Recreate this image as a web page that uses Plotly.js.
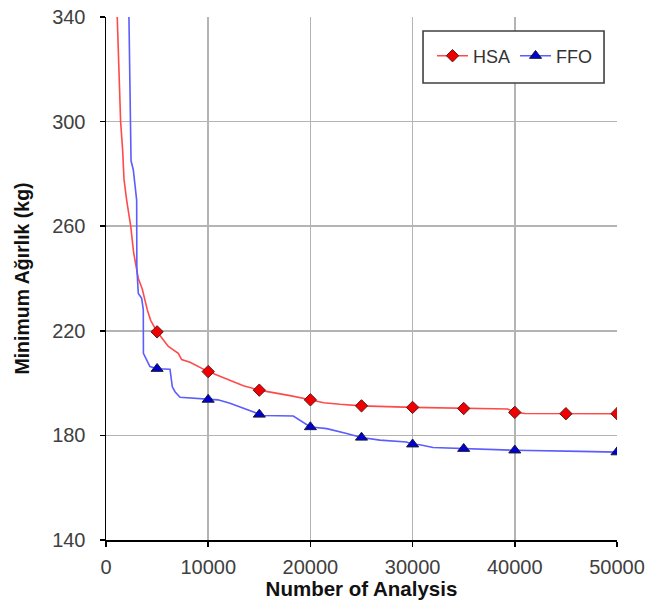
<!DOCTYPE html>
<html>
<head>
<meta charset="utf-8">
<script src="https://cdn.plot.ly/plotly-3.0.1.min.js"></script>
<style>html,body{margin:0;padding:0;background:#fff;}#chart{width:646px;height:610px;}</style>
</head>
<body>
<div id="chart"></div>
<script>
// HSA curve
var hsaX = [1000, 1100, 1300, 1430, 1630, 1760, 2020, 2420, 2700, 3000, 3160, 3550, 4040, 4370, 5000, 6100, 7070, 7400, 8220, 10000, 11800, 12130, 13440, 15000, 17000, 18000, 20000, 21300, 22900, 25000, 30000, 35000, 39300, 39800, 40000, 41000, 45000, 50000];
var hsaY = [352, 340, 318, 300, 289, 278, 270, 260, 250, 244, 240, 236, 228, 224, 219.6, 214, 211.4, 209, 208, 204.4, 201.6, 201, 199, 197.3, 196, 195.2, 193.6, 192.5, 191.9, 191.3, 190.7, 190.3, 190.1, 189.2, 188.8, 188.4, 188.3, 188.3];
// FFO curve
var ffoX = [2200, 2250, 2350, 2410, 2450, 2670, 2770, 2935, 3000, 3020, 3160, 3490, 3650, 3660, 3910, 4300, 5000, 6260, 6490, 6750, 7240, 10000, 10950, 12130, 13110, 15000, 15390, 18330, 19960, 20000, 20300, 21600, 23550, 25000, 26800, 29400, 30000, 30700, 32000, 35000, 40000, 46400, 50000];
var ffoY = [352, 340, 300, 289, 285, 281.6, 278, 273.8, 270, 244, 234.3, 232.4, 228, 211.4, 209.5, 206.3, 205.5, 205.3, 198.6, 196.7, 194.6, 193.7, 193.6, 192.3, 190.8, 188, 187.6, 187.4, 183.5, 183.2, 183.1, 182.6, 180.7, 179.2, 178.2, 177.5, 176.6, 176.4, 175.4, 174.9, 174.3, 173.9, 173.6];
// marker positions
var hsaMarkX = [5000, 10000, 15000, 20000, 25000, 30000, 35000, 40000, 45000, 50000];
var ffoMarkX = [5000, 10000, 15000, 20000, 25000, 30000, 35000, 40000, 50000];
var seriesNames = ['HSA', 'FFO'];
var xTicks = [0, 10000, 20000, 30000, 40000, 50000];
var yTicks = [140, 180, 220, 260, 300, 340];

function idx(xs, marks) { return marks.map(function (m) { return xs.indexOf(m); }); }

var font = 'Liberation Sans, Arial, sans-serif';
var traces = [
  {
    x: hsaX, y: hsaY, name: seriesNames[0], mode: 'lines+markers', type: 'scatter',
    line: {color: '#ff4a4a', width: 1.6},
    marker: {symbol: 'diamond', size: 9.5, color: '#f00000', line: {color: '#5a1a1a', width: 1}},
    selectedpoints: idx(hsaX, hsaMarkX),
    selected: {marker: {opacity: 1}},
    unselected: {marker: {opacity: 0}}
  },
  {
    x: ffoX, y: ffoY, name: seriesNames[1], mode: 'lines+markers', type: 'scatter',
    line: {color: '#5c5cff', width: 1.6},
    marker: {symbol: 'triangle-up', size: 10.5, color: '#0000d0', line: {color: '#1a1a3a', width: 1}},
    selectedpoints: idx(ffoX, ffoMarkX),
    selected: {marker: {opacity: 1}},
    unselected: {marker: {opacity: 0}}
  }
];

var layout = {
  width: 646, height: 610,
  margin: {l: 106, r: 29, t: 17, b: 70, pad: 0},
  paper_bgcolor: '#ffffff', plot_bgcolor: '#ffffff',
  font: {family: font, color: '#404040'},
  showlegend: true,
  legend: {
    orientation: 'h', x: 0.638, y: 0.9254, xanchor: 'left', yanchor: 'middle',
    bgcolor: 'rgba(0,0,0,0)', borderwidth: 0,
    font: {family: font, size: 18, color: '#333333'},
    itemwidth: 31,
    itemclick: false
  },
  shapes: [{
    type: 'rect', xref: 'paper', yref: 'paper', layer: 'above',
    x0: 0.6204, x1: 0.9746, y0: 0.8738, y1: 0.9732,
    fillcolor: '#ffffff', line: {color: '#404040', width: 1.6}
  }],
  xaxis: {
    range: [0, 50000], tickvals: xTicks, ticktext: xTicks.map(String),
    showgrid: true, gridcolor: '#b4b4b4', gridwidth: 1.5,
    zeroline: false, showline: true, linecolor: '#000000', linewidth: 1.5,
    ticks: 'outside', ticklen: 5, tickwidth: 1.5, tickcolor: '#000000',
    ticklabelstandoff: 3,
    tickfont: {family: font, size: 20, color: '#404040'},
    title: {text: 'Number of Analysis', font: {family: font, size: 20.5, color: '#111111', weight: 'bold'}, standoff: 5}
  },
  yaxis: {
    range: [140, 340], tickvals: yTicks, ticktext: yTicks.map(String),
    showgrid: true, gridcolor: '#b4b4b4', gridwidth: 1.5,
    zeroline: false, showline: true, linecolor: '#000000', linewidth: 1.5,
    ticks: 'outside', ticklen: 5, tickwidth: 1.5, tickcolor: '#000000',
    ticklabelstandoff: 10,
    tickfont: {family: font, size: 20, color: '#404040'},
    title: {text: 'Minimum Ağırlık (kg)', font: {family: font, size: 19.5, color: '#111111', weight: 'bold'}, standoff: 17}
  }
};

Plotly.newPlot('chart', traces, layout, {staticPlot: true, displayModeBar: false});
</script>
</body>
</html>
